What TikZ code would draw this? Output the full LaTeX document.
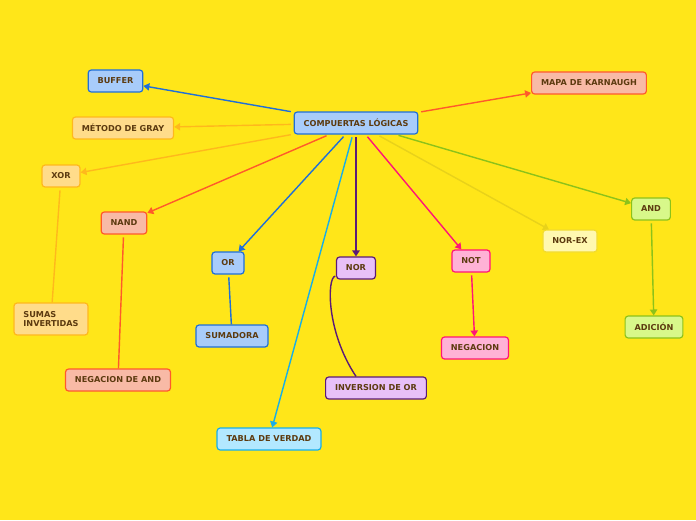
\documentclass[tikz,border=0pt]{standalone}
\usepackage{fontspec}
\setmainfont{DejaVu Sans}
\usetikzlibrary{arrows.meta, calc}

\begin{document}
\begin{tikzpicture}[x=0.025cm, y=-0.025cm,
    box/.style={rounded corners=2.2pt, line width=0.85pt, inner xsep=6.7pt, inner ysep=0pt,
        minimum height=0.55cm, text=textColour, font=\fontsize{5.8}{6.2}\selectfont\bfseries},
    blueBox/.style={box, draw=blueBorder, fill=blueFill},
    orangeBox/.style={box, draw=orangeBorder, fill=orangeFill},
    redBox/.style={box, draw=redBorder, fill=redFill},
    purpleBox/.style={box, draw=purpleBorder, fill=purpleFill},
    pinkBox/.style={box, draw=pinkBorder, fill=pinkFill},
    paleBox/.style={box, draw=paleBorder, fill=paleFill},
    greenBox/.style={box, draw=greenBorder, fill=greenFill},
    cyanBox/.style={box, draw=cyanBorder, fill=cyanFill},
    plainLink/.style={line width=1pt, shorten <=2pt},
    link/.style={plainLink, -{Triangle[length=4.2pt,width=5.2pt]}}]

    \definecolor{backColour}{HTML}{FFE619}
    \definecolor{textColour}{HTML}{5C3A0F}
    \definecolor{blueFill}{HTML}{A8CCFA}
    \definecolor{blueBorder}{HTML}{1F6FD8}
    \definecolor{orangeFill}{HTML}{FFDC8A}
    \definecolor{orangeBorder}{HTML}{FFB81C}
    \definecolor{redFill}{HTML}{F8BAA6}
    \definecolor{redBorder}{HTML}{FF5A2A}
    \definecolor{purpleFill}{HTML}{E8C0F8}
    \definecolor{purpleBorder}{HTML}{5B1A78}
    \definecolor{pinkFill}{HTML}{FFB2D6}
    \definecolor{pinkBorder}{HTML}{FF1577}
    \definecolor{paleFill}{HTML}{FFF8B0}
    \definecolor{paleBorder}{HTML}{F2DB2E}
    \definecolor{greenFill}{HTML}{D8F88A}
    \definecolor{greenBorder}{HTML}{8CC21A}
    \definecolor{cyanFill}{HTML}{B2E8FF}
    \definecolor{cyanBorder}{HTML}{18AEE8}
    \definecolor{noreLine}{HTML}{E8D21A}

    % Draw background
    \fill[backColour] (0,0) rectangle (696,520);
    \useasboundingbox (0,0) rectangle (696,520);

    % Draw the central topic
    \node[blueBox] (compuertas) at (356,123) {COMPUERTAS LÓGICAS};

    % Draw the gates and their notes
    \node[blueBox] (buffer) at (115.5,81) {BUFFER};
    \node[orangeBox] (metodoGray) at (123,128) {MÉTODO DE GRAY};
    \node[orangeBox] (xorGate) at (61,176) {XOR};
    \node[orangeBox, align=left, minimum height=0.8cm] (sumasInvertidas) at (51,319) {SUMAS\\INVERTIDAS};
    \node[redBox] (nandGate) at (124,223) {NAND};
    \node[redBox] (negacionAnd) at (118,380) {NEGACION DE AND};
    \node[blueBox] (orGate) at (228,263) {OR};
    \node[blueBox] (sumadora) at (232,336) {SUMADORA};
    \node[cyanBox] (tablaVerdad) at (269,439) {TABLA DE VERDAD};
    \node[purpleBox] (norGate) at (356,268) {NOR};
    \node[purpleBox] (inversionOr) at (376,388) {INVERSION DE OR};
    \node[pinkBox] (notGate) at (471,261) {NOT};
    \node[pinkBox] (negacion) at (475,348) {NEGACION};
    \node[paleBox] (norEx) at (570,241) {NOR-EX};
    \node[greenBox] (andGate) at (651,209) {AND};
    \node[greenBox] (adicion) at (654,327) {ADICIÓN};
    \node[redBox] (mapaKarnaugh) at (589,83) {MAPA DE KARNAUGH};

    % Draw connectors from the central topic
    \draw[link, blueBorder] (compuertas) -- (buffer);
    \draw[link, orangeBorder] (compuertas) -- (metodoGray);
    \draw[link, orangeBorder] (compuertas) -- (xorGate);
    \draw[link, redBorder] (compuertas) -- (nandGate);
    \draw[link, blueBorder] (compuertas) -- (orGate);
    \draw[link, cyanBorder] (compuertas) -- (tablaVerdad);
    \draw[link, purpleBorder] (compuertas) -- (norGate);
    \draw[link, pinkBorder] (compuertas) -- (notGate);
    \draw[link, noreLine] (compuertas) -- (norEx);
    \draw[link, greenBorder] (compuertas) -- (andGate);
    \draw[link, redBorder] (compuertas) -- (mapaKarnaugh);

    % Draw connectors to the notes
    \draw[plainLink, orangeBorder] (xorGate) -- (sumasInvertidas);
    \draw[plainLink, redBorder] (nandGate) -- (negacionAnd);
    \draw[plainLink, blueBorder] (orGate) -- (sumadora);
    \draw[plainLink, purpleBorder] ($(norGate.south west)+(2,-4)$)
        .. controls +(-11,2) and +(-30,-45) .. ($(inversionOr.north)+(-20,0)$);
    \draw[link, pinkBorder] (notGate) -- (negacion);
    \draw[link, greenBorder] (andGate) -- (adicion);

\end{tikzpicture}
\end{document}
